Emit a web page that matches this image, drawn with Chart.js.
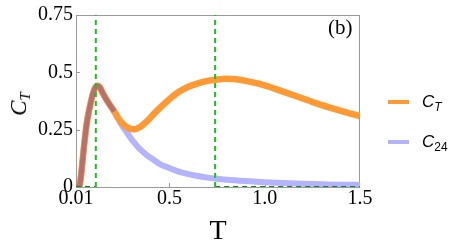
<!DOCTYPE html>
<html>
<head>
<meta charset="utf-8">
<script src="https://cdn.jsdelivr.net/npm/chart.js@4/dist/chart.umd.min.js"></script>
<style>
  html,body{margin:0;padding:0;background:#fff;}
  #wrap{position:relative;width:463px;height:248px;overflow:hidden;}
  canvas{position:absolute;left:0;top:0;}
  .ov{position:absolute;white-space:nowrap;color:#000;line-height:1;}
  .serif{font-family:"Liberation Serif","Times New Roman",serif;}
  .sans{font-family:"Liberation Sans",Arial,sans-serif;}
  .lg{position:absolute;height:4px;width:21px;}
</style>
</head>
<body>
<div id="wrap">
  <canvas id="c" width="463" height="248"></canvas>
  <div class="ov serif" id="ytitle" style="left:20px;top:104px;transform:translate(-50%,-50%) rotate(-90deg);font-size:23px;"><i>C</i><sub style="font-size:15px;vertical-align:-4px;"><i>T</i></sub></div>
  <div class="ov serif" style="left:328px;top:17px;font-size:21px;">(b)</div>
  <div class="lg" style="left:388px;top:100px;background:#ff9933;"></div>
  <div class="ov sans" style="left:422px;top:93px;font-size:17px;"><i>C</i><sub style="font-size:12px;vertical-align:-4px;"><i>T</i></sub></div>
  <div class="lg" style="left:388px;top:140px;background:#b3b3ff;"></div>
  <div class="ov sans" style="left:422px;top:133px;font-size:17px;"><i>C</i><sub style="font-size:12px;vertical-align:-4px;">24</sub></div>
</div>
<script>
// ---- data ----
// shared low-temperature part (C_T and C_24 coincide)
const T_SHARED = [0.01, 0.02, 0.026, 0.035, 0.045, 0.055, 0.065, 0.075, 0.088, 0.1, 0.112, 0.123, 0.135, 0.15, 0.167, 0.19, 0.21];
const C_SHARED = [0, 0, 0, 0.04, 0.12, 0.2, 0.27, 0.32, 0.37, 0.41, 0.435, 0.442, 0.435, 0.41, 0.385, 0.355, 0.33];
// C_T beyond the split
const T_CT_TAIL = [0.23, 0.25, 0.275, 0.3, 0.32, 0.345, 0.38, 0.42, 0.45, 0.5, 0.55, 0.6, 0.65, 0.7, 0.75, 0.8, 0.85, 0.9, 0.95, 1.0, 1.1, 1.2, 1.3, 1.4, 1.5];
const C_CT_TAIL = [0.302, 0.28, 0.262, 0.253, 0.252, 0.261, 0.285, 0.32, 0.345, 0.383, 0.415, 0.437, 0.452, 0.463, 0.469, 0.472, 0.47, 0.463, 0.454, 0.443, 0.415, 0.386, 0.357, 0.332, 0.309];
// C_24 beyond the split
const T_C24_TAIL = [0.23, 0.25, 0.275, 0.3, 0.34, 0.38, 0.42, 0.45, 0.5, 0.55, 0.6, 0.65, 0.7, 0.75, 0.8, 0.9, 1.0, 1.1, 1.2, 1.3, 1.4, 1.5];
const C_C24_TAIL = [0.3, 0.27, 0.24, 0.21, 0.17, 0.14, 0.117, 0.1, 0.083, 0.067, 0.056, 0.048, 0.041, 0.036, 0.032, 0.026, 0.021, 0.017, 0.014, 0.012, 0.01, 0.009];
// marked temperatures (green dashed lines)
const MARK_T = [0.114, 0.74];
const X_MIN = 0.01, X_MAX = 1.5, Y_MIN = 0, Y_MAX = 0.75;
const X_TICKS = [0.01, 0.5, 1.0, 1.5];
const X_TICK_LABELS = ['0.01', '0.5', '1.0', '1.5'];
const Y_TICKS = [0, 0.25, 0.5, 0.75];
const Y_TICK_LABELS = ['0', '0.25', '0.5', '0.75'];

const pts = (xs, ys) => xs.map((x, i) => ({x, y: ys[i]}));
const ctData = pts(T_SHARED.concat(T_CT_TAIL), C_SHARED.concat(C_CT_TAIL));
const c24Data = pts(T_SHARED.concat(T_C24_TAIL), C_SHARED.concat(C_C24_TAIL));
const sharedData = pts(T_SHARED, C_SHARED);

const lineDefaults = {showLine: true, pointRadius: 0, pointHoverRadius: 0, fill: false};
const datasets = [
  {...lineDefaults, label: 'C_24', order: 3, data: c24Data, borderColor: '#b3b3ff', borderWidth: 6, cubicInterpolationMode: 'monotone'},
  {...lineDefaults, label: 'C_T', order: 2, data: ctData, borderColor: '#ff9933', borderWidth: 6.5, cubicInterpolationMode: 'monotone'},
  {...lineDefaults, label: 'overlap', order: 1, data: sharedData, borderColor: '#b5716f', borderWidth: 5, cubicInterpolationMode: 'monotone'},
];
MARK_T.forEach(t => datasets.push({...lineDefaults, label: 'mark', order: 0, data: [{x: t, y: Y_MIN}, {x: t, y: Y_MAX}], borderColor: '#1fbf1f', borderWidth: 2, borderDash: [5, 4]}));
datasets.push({...lineDefaults, label: 'base1', order: 0, data: [{x: X_MIN, y: 0}, {x: MARK_T[0], y: 0}], borderColor: '#118a11', borderWidth: 2, borderDash: [5, 4]});
datasets.push({...lineDefaults, label: 'base2', order: 0, data: [{x: MARK_T[1], y: 0}, {x: X_MAX, y: 0}], borderColor: '#118a11', borderWidth: 2, borderDash: [5, 4]});

const frame = {
  id: 'frame',
  beforeDatasetsDraw(chart) {
    const {ctx, chartArea: a, scales} = chart;
    ctx.save();
    ctx.strokeStyle = '#9a9a9a';
    ctx.lineWidth = 1;
    ctx.strokeRect(Math.round(a.left) + 0.5, Math.round(a.top) + 0.5, Math.round(a.right - a.left) - 1, Math.round(a.bottom - a.top));
    ctx.beginPath();
    X_TICKS.slice(1, -1).forEach(v => {
      const px = Math.round(scales.x.getPixelForValue(v)) + 0.5;
      ctx.moveTo(px, a.bottom); ctx.lineTo(px, a.bottom - 4);
    });
    Y_TICKS.slice(1, -1).forEach(v => {
      const py = Math.round(scales.y.getPixelForValue(v)) + 0.5;
      ctx.moveTo(a.left, py); ctx.lineTo(a.left + 4, py);
    });
    ctx.stroke();
    ctx.restore();
  }
};

const tickFont = {family: '"Liberation Serif", "Times New Roman", serif', size: 20};
new Chart(document.getElementById('c'), {
  type: 'scatter',
  data: {datasets},
  plugins: [frame],
  options: {
    responsive: false,
    animation: false,
    devicePixelRatio: 1,
    layout: {padding: {top: 12, right: 103, left: 0, bottom: 0}},
    plugins: {legend: {display: false}, tooltip: {enabled: false}},
    scales: {
      x: {
        type: 'linear', min: X_MIN, max: X_MAX,
        afterBuildTicks: s => { s.ticks = X_TICKS.map(v => ({value: v})); },
        afterFit: s => { s.height = 61; },
        ticks: {callback: (v, i) => X_TICK_LABELS[i], font: tickFont, color: '#000', maxRotation: 0, autoSkip: false, padding: 0},
        grid: {display: false, drawTicks: false},
        border: {display: false},
        title: {display: true, text: 'T', color: '#000', font: {family: '"Liberation Serif", "Times New Roman", serif', size: 28}, padding: {top: 0, bottom: 0}}
      },
      y: {
        type: 'linear', min: Y_MIN, max: Y_MAX,
        afterBuildTicks: s => { s.ticks = Y_TICKS.map(v => ({value: v})); },
        afterFit: s => { s.width = 76; },
        ticks: {callback: (v, i) => Y_TICK_LABELS[i], font: tickFont, color: '#000', padding: 3},
        grid: {display: false, drawTicks: false},
        border: {display: false}
      }
    }
  }
});
</script>
</body>
</html>
